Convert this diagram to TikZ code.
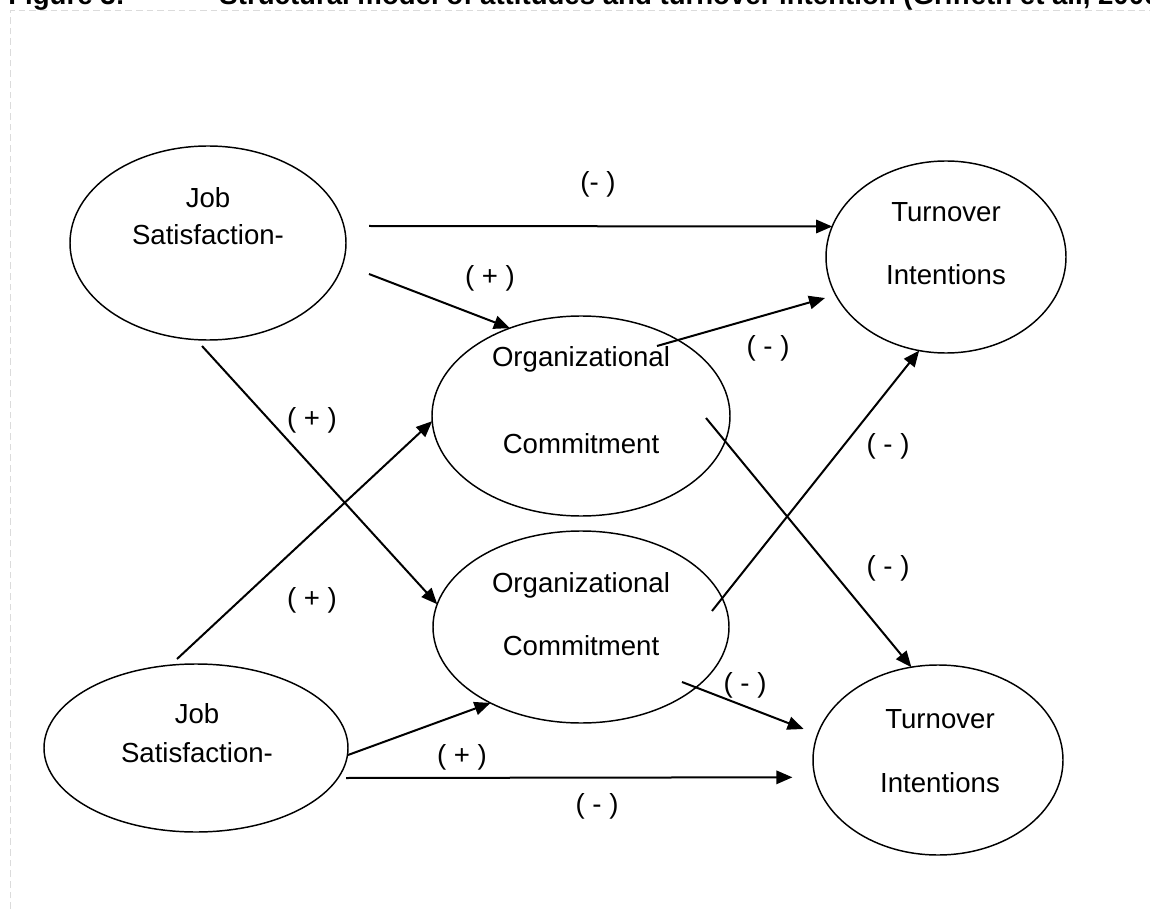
\documentclass[tikz,border=0pt]{standalone}
\usepackage{fontspec}
\setmainfont{Liberation Sans}
\usepackage{tikz}
\usetikzlibrary{arrows.meta}
\usetikzlibrary{shapes.geometric}
\tikzset{ell/.style = {draw, ellipse, line width=1.1pt, inner sep=0, outer sep=0}}
\tikzset{arr/.style = {line width=1.5pt, -{Triangle[length=12pt, width=10pt]}}}
\tikzset{txt/.style = {anchor=base, inner sep=0}}
\tikzset{sgn/.style = {inner sep=0}}
\tikzset{frame/.style = {draw=black!14, line width=0.8pt, dash pattern=on 5pt off 3pt}}

\begin{document}
\begin{tikzpicture}[x=0.75pt, y=-0.75pt, font=\fontsize{20.7pt}{24pt}\selectfont]
      \useasboundingbox (0,0) rectangle (1150,909);
      \clip (0,0) rectangle (1150,909);
      \fill[white] (0,0) rectangle (1150,909);
      \draw[frame] (10.5,909) -- (10.5,10.5) -- (1150,10.5);
      \node[anchor=base west, inner sep=0, font=\fontsize{20.7pt}{24pt}\selectfont\bfseries] (title) at (8,5)
        {Figure 3:\hspace{71pt}Structural model of attitudes and turnover intention (Griffeth et al., 2000)};

      \node[ell, minimum width=207pt, minimum height=145.5pt] (js1) at (208,243) {};
      \node[ell, minimum width=180pt, minimum height=144pt] (ti1) at (946,257) {};
      \node[ell, minimum width=223.5pt, minimum height=150pt] (oc1) at (581,416) {};
      \node[ell, minimum width=222pt, minimum height=144pt] (oc2) at (581,627) {};
      \node[ell, minimum width=228pt, minimum height=126pt] (js2) at (196,748) {};
      \node[ell, minimum width=187.5pt, minimum height=142.5pt] (ti2) at (938,760) {};

      \node[txt] (js1a) at (208,208) {Job};
      \node[txt] (js1b) at (208,245) {Satisfaction-};
      \node[txt] (ti1a) at (946,222) {Turnover};
      \node[txt] (ti1b) at (946,285) {Intentions};
      \node[txt] (oc1a) at (581,367) {Organizational};
      \node[txt] (oc1b) at (581,453) {Commitment};
      \node[txt] (oc2a) at (581,592) {Organizational};
      \node[txt] (oc2b) at (581,655) {Commitment};
      \node[txt] (js2a) at (197,723) {Job};
      \node[txt] (js2b) at (197,762) {Satisfaction-};
      \node[txt] (ti2a) at (940,728) {Turnover};
      \node[txt] (ti2b) at (940,792) {Intentions};

      \coordinate (s1) at (369,226);
      \coordinate (s2) at (369,274);
      \coordinate (s3) at (657,346);
      \coordinate (s4) at (706,418);
      \coordinate (s5) at (712,611);
      \coordinate (s6) at (202,346);
      \coordinate (s7) at (177,659);
      \coordinate (s8) at (348,755);
      \coordinate (s9) at (682,682);
      \coordinate (s10) at (346,778);

      \draw[arr] (s1) -- (ti1.165.2);
      \draw[arr] (s2) -- (oc1.129.1);
      \draw[arr, shorten >=8.4pt] (s3) -- (ti1.199);
      \draw[arr] (s4) -- (ti2.106.3);
      \draw[arr] (s5) -- (ti1.254);
      \draw[arr] (s6) -- (oc2.171.9);
      \draw[arr] (s7) -- (oc1.182.4);
      \draw[arr] (s8) -- (oc2.220.3);
      \draw[arr, shorten >=11.3pt] (s9) -- (ti2.168.6);
      \draw[arr, shorten >=17pt] (s10) -- (ti2.188.3);

      \node[sgn] (l1) at (598,184) {(- )};
      \node[sgn] (l2) at (490,278) {( + )};
      \node[sgn] (l3) at (768,348) {( - )};
      \node[sgn] (l4) at (312,420) {( + )};
      \node[sgn] (l5) at (888,446) {( - )};
      \node[sgn] (l6) at (312,600) {( + )};
      \node[sgn] (l7) at (888,568) {( - )};
      \node[sgn] (l8) at (745,685) {( - )};
      \node[sgn] (l9) at (462,757) {( + )};
      \node[sgn] (l10) at (597,806) {( - )};
    \end{tikzpicture}
\end{document}
